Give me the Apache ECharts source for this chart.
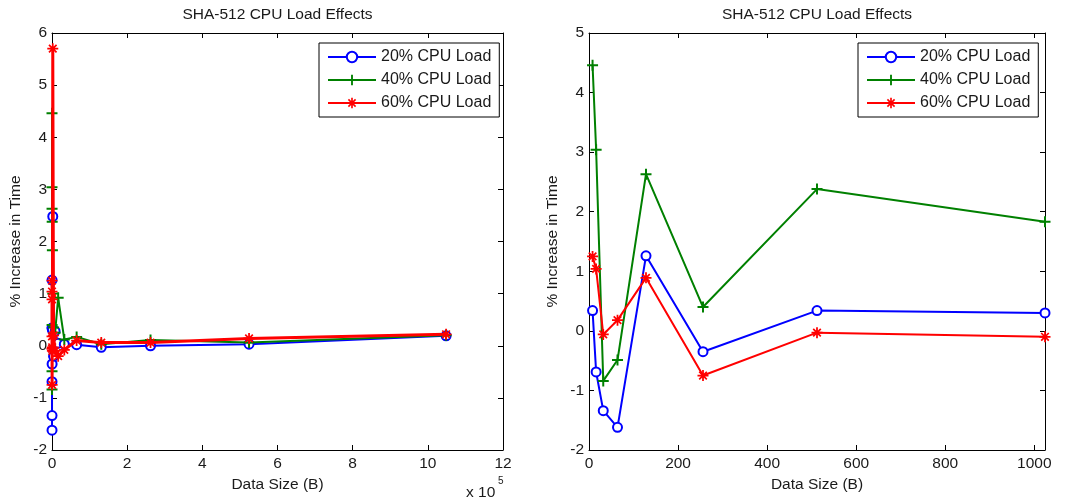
<!DOCTYPE html>
<html>
<head>
<meta charset="utf-8">
<script src="https://cdn.jsdelivr.net/npm/echarts@6/dist/echarts.min.js"></script>
<style>
html,body{margin:0;padding:0;background:#fff;}
#chart{width:1065px;height:504px;}
</style>
</head>
<body>
<div id="chart"></div>
<script>
// ---- data ----
const sizes = [8,16,32,64,128,256,512,1024,2048,4096,8192,16384,32768,65536,131072,262144,524288,1048576];
const load20 = [0.34,-0.69,-1.34,-1.62,1.26,-0.35,0.34,0.30,2.48,-0.20,0.28,0.05,0.03,0.02,-0.03,0.00,0.03,0.19];
const load40 = [4.46,3.04,-0.84,-0.49,2.63,0.40,2.38,1.83,1.00,0.35,0.25,0.92,0.12,0.17,0.03,0.11,0.06,0.20];
const load60 = [1.25,1.04,-0.06,0.18,0.89,-0.75,-0.03,-0.10,5.70,0.20,-0.10,-0.20,-0.08,0.10,0.06,0.06,0.14,0.22];
const seriesNames = ['20% CPU Load','40% CPU Load','60% CPU Load'];
const chartTitle = 'SHA-512 CPU Load Effects';
const xLabel = 'Data Size (B)';
const yLabel = '% Increase in Time';
const rightMaxX = 1024;

const colors = ['#0000ff','#008000','#ff0000'];
const plusPath = 'path://M4.1,0 L5.9,0 L5.9,4.1 L10,4.1 L10,5.9 L5.9,5.9 L5.9,10 L4.1,10 L4.1,5.9 L0,5.9 L0,4.1 L4.1,4.1 Z';
const starPath = 'path://M10,5.8 L10,4.2 L0,4.2 L0,5.8 Z M4.2,10 L5.8,10 L5.8,0 L4.2,0 Z M7.9,9.0 L9.0,7.9 L2.1,1.0 L1.0,2.1 Z M1.0,7.9 L2.1,9.0 L9.0,2.1 L7.9,1.0 Z';
const symbols = ['emptyCircle', plusPath, starPath];
const loads = [load20, load40, load60];

const FONT = '"Liberation Sans", Arial, Helvetica, sans-serif';
const TXT = '#1a1a1a';
const FS = 15.5;

const gridL = {left:52, top:33, width:451, height:417};
const gridR = {left:589, top:33, width:456, height:417};

function plain(v){ return String(v); }

function xAx(gi, pos, min, max, interval, showLabel, fmt, extra){
  return Object.assign({
    type:'value', gridIndex:gi, position:pos, min:min, max:max, interval:interval,
    axisLine:{show:true, onZero:false, lineStyle:{color:'#000', width:1}},
    axisTick:{show:true, inside:true, length:5, lineStyle:{color:'#000'}},
    axisLabel:{show:showLabel, color:TXT, fontSize:FS, fontFamily:FONT, margin:6, formatter:fmt},
    splitLine:{show:false}
  }, extra||{});
}
function yAx(gi, pos, min, max, interval, showLabel, extra){
  return Object.assign({
    type:'value', gridIndex:gi, position:pos, min:min, max:max, interval:interval,
    axisLine:{show:true, onZero:false, lineStyle:{color:'#000', width:1}},
    axisTick:{show:true, inside:true, length:5, lineStyle:{color:'#000'}},
    axisLabel:{show:showLabel, color:TXT, fontSize:FS, fontFamily:FONT, margin:5, formatter:plain},
    splitLine:{show:false}
  }, extra||{});
}

const axisNameStyle = {color:TXT, fontSize:FS, fontFamily:FONT};

const xAxes = [
  xAx(0,'bottom',0,1200000,200000,true,function(v){return String(Math.round(v/100000));},
      {name:xLabel, nameLocation:'middle', nameGap:26, nameTextStyle:axisNameStyle}),
  xAx(0,'top',0,1200000,200000,false),
  xAx(1,'bottom',0,rightMaxX,200,true,plain,
      {name:xLabel, nameLocation:'middle', nameGap:26, nameTextStyle:axisNameStyle}),
  xAx(1,'top',0,rightMaxX,200,false)
];
xAxes[2].axisLabel.showMaxLabel = false;
const yAxes = [
  yAx(0,'left',-2,6,1,true,{name:yLabel, nameLocation:'middle', nameGap:28, nameTextStyle:axisNameStyle}),
  yAx(0,'right',-2,6,1,false),
  yAx(1,'left',-2,5,1,true,{name:yLabel, nameLocation:'middle', nameGap:28, nameTextStyle:axisNameStyle}),
  yAx(1,'right',-2,5,1,false)
];
xAxes[0].gridIndex = 0; xAxes[1].gridIndex = 0; xAxes[2].gridIndex = 1; xAxes[3].gridIndex = 1;
yAxes[0].gridIndex = 0; yAxes[1].gridIndex = 0; yAxes[2].gridIndex = 1; yAxes[3].gridIndex = 1;

const series = [];
const widthsL = [2,2,3];
const widthsR = [2,2,2];
const symSizes = [9,11,11];
loads.forEach(function(arr, k){
  series.push({
    name:seriesNames[k], type:'line', xAxisIndex:0, yAxisIndex:0,
    data:sizes.map(function(x,i){return [x, arr[i]];}),
    symbol:symbols[k], symbolSize:symSizes[k], showAllSymbol:true,
    lineStyle:{color:colors[k], width:widthsL[k]},
    itemStyle:{color:colors[k], borderColor:colors[k], borderWidth:k===0?1.6:0},
    emphasis:{disabled:true}, z:2+k
  });
});
loads.forEach(function(arr, k){
  const pts = [];
  sizes.forEach(function(x,i){ if(x<=rightMaxX) pts.push([x, arr[i]]); });
  series.push({
    name:seriesNames[k], type:'line', xAxisIndex:2, yAxisIndex:2,
    data:pts, clip:false,
    symbol:symbols[k], symbolSize:symSizes[k], showAllSymbol:true,
    lineStyle:{color:colors[k], width:widthsR[k]},
    itemStyle:{color:colors[k], borderColor:colors[k], borderWidth:k===0?1.6:0},
    emphasis:{disabled:true}, z:2+k
  });
});

function legendAt(left){
  return {
    show:true, orient:'vertical', left:left, top:43,
    data:seriesNames, selectedMode:false,
    backgroundColor:'#fff', borderColor:'#000', borderWidth:1,
    padding:[6,8,6,8], itemWidth:48, itemHeight:13, itemGap:7,
    textStyle:{color:TXT, fontSize:16, fontFamily:FONT}
  };
}

const option = {
  animation:false,
  backgroundColor:'#fff',
  grid:[
    Object.assign({containLabel:false, show:false}, gridL),
    Object.assign({containLabel:false, show:false}, gridR)
  ],
  xAxis:xAxes,
  yAxis:yAxes,
  legend:[legendAt(319), legendAt(858)],
  series:series,
  graphic:[
    {type:'text', x:gridL.left+gridL.width/2, y:15, style:{text:chartTitle, fill:TXT, font:FS+'px '+FONT, textAlign:'center', textVerticalAlign:'middle', verticalAlign:'middle'}},
    {type:'text', x:gridR.left+gridR.width/2, y:15, style:{text:chartTitle, fill:TXT, font:FS+'px '+FONT, textAlign:'center', textVerticalAlign:'middle', verticalAlign:'middle'}},
    {type:'text', x:466, y:493, style:{text:'x 10', fill:TXT, font:FS+'px '+FONT, textAlign:'left', textVerticalAlign:'middle', verticalAlign:'middle'}},
    {type:'text', x:498, y:481, style:{text:'5', fill:TXT, font:'10px '+FONT, textAlign:'left', textVerticalAlign:'middle', verticalAlign:'middle'}}
  ]
};
const chart = echarts.init(document.getElementById('chart'), null, {renderer:'canvas'});
chart.setOption(option);
</script>
</body>
</html>
